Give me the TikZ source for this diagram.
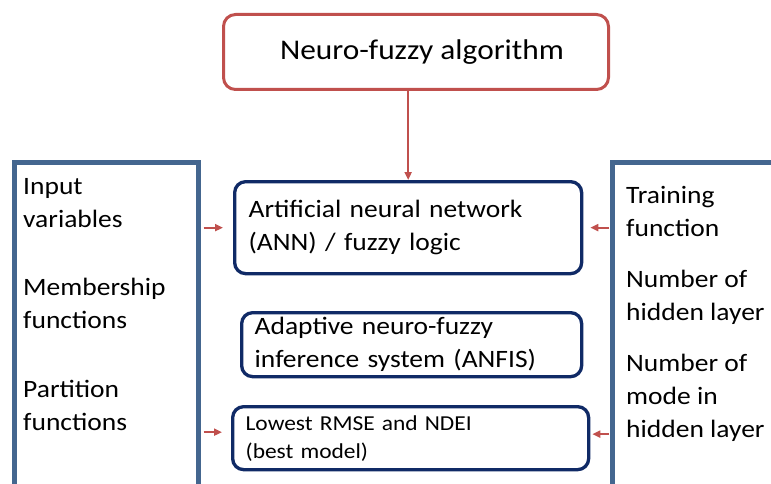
\documentclass[tikz,border=0pt]{standalone}
\usepackage{fontspec}
\setmainfont{Carlito}[FakeStretch=1.1]
\usetikzlibrary{arrows.meta,positioning,calc}
\definecolor{algred}{HTML}{C0504D}
\definecolor{stagenavy}{HTML}{102A66}
\definecolor{panelblue}{HTML}{44668F}

\begin{document}
\begin{tikzpicture}[x=1pt,y=-1pt,
	algbox/.style={draw=algred,line width=3pt,rounded corners=12pt,minimum width=385pt,minimum height=75pt,anchor=north west,font=\fontsize{28.5}{33}\selectfont},
	stagebox/.style={draw=stagenavy,line width=3.3pt,rounded corners=11pt,anchor=north west,align=left},
	panel/.style={draw=panelblue,line width=4.5pt,anchor=north west,inner sep=0pt},
	paneltext/.style={anchor=base west,align=left,inner sep=0pt,font=\fontsize{25}{33}\selectfont},
	link/.style={draw=algred,line width=2pt,-{Triangle[length=8pt,width=7pt]}}]
	\useasboundingbox (0,0) rectangle (771,484);
	\clip (0,0) rectangle (771,484);
	% side panels (open at the bottom)
	\node[panel,minimum width=184pt,minimum height=400pt] (inputs) at (12,160) {};
	\node[panel,minimum width=200pt,minimum height=400pt] (training) at (610,160) {};
	\node[paneltext] (inp) at (23,227) {Input\\variables};
	\node[paneltext] (mem) at (23,328) {Membership\\functions};
	\node[paneltext] (part) at (23,430) {Partition\\functions};
	\node[paneltext] (trf) at (626,236) {Training\\function};
	\node[paneltext] (hid) at (626,320) {Number of\\hidden layer};
	\node[paneltext] (mode) at (626,437) {Number of\\mode in\\hidden layer};
	% boxes
	\node[algbox] (algo) at (222,13) {\hspace*{12pt}Neuro-fuzzy algorithm};
	\node[stagebox,minimum width=347pt,minimum height=92pt,text width=319pt,inner xsep=14pt,font=\fontsize{25}{33}\selectfont] (ann) at (233,180) {Artificial neural network\\(ANN) / fuzzy logic};
	\node[stagebox,minimum width=340pt,minimum height=64pt,text width=314pt,inner xsep=13pt,inner ysep=0pt,font=\fontsize{25}{33}\selectfont] (anfis) at (240,311) {Adaptive neuro-fuzzy\\inference system (ANFIS)};
	\node[stagebox,minimum width=356pt,minimum height=63pt,text width=330pt,inner xsep=13pt,inner ysep=0pt,font=\fontsize{21.3}{28}\selectfont] (rmse) at (231,405) {Lowest RMSE and NDEI\\(best model)};
	% arrows
	\draw[link] (algo.south -| ann.north) -- (ann.north);
	\draw[link,shorten <=3pt,shorten >=10pt] (inputs.east |- ann.west) -- (ann.west);
	\draw[link,shorten <=3pt,shorten >=9pt] ([yshift=6pt]inputs.east |- rmse.west) -- ([yshift=6pt]rmse.west);
	\draw[link,shorten <=1pt,shorten >=7pt] (training.west |- ann.east) -- (ann.east);
	\draw[link,shorten <=1pt,shorten >=2pt] ([yshift=4pt]training.west |- rmse.east) -- ([yshift=4pt]rmse.east);
\end{tikzpicture}
\end{document}
